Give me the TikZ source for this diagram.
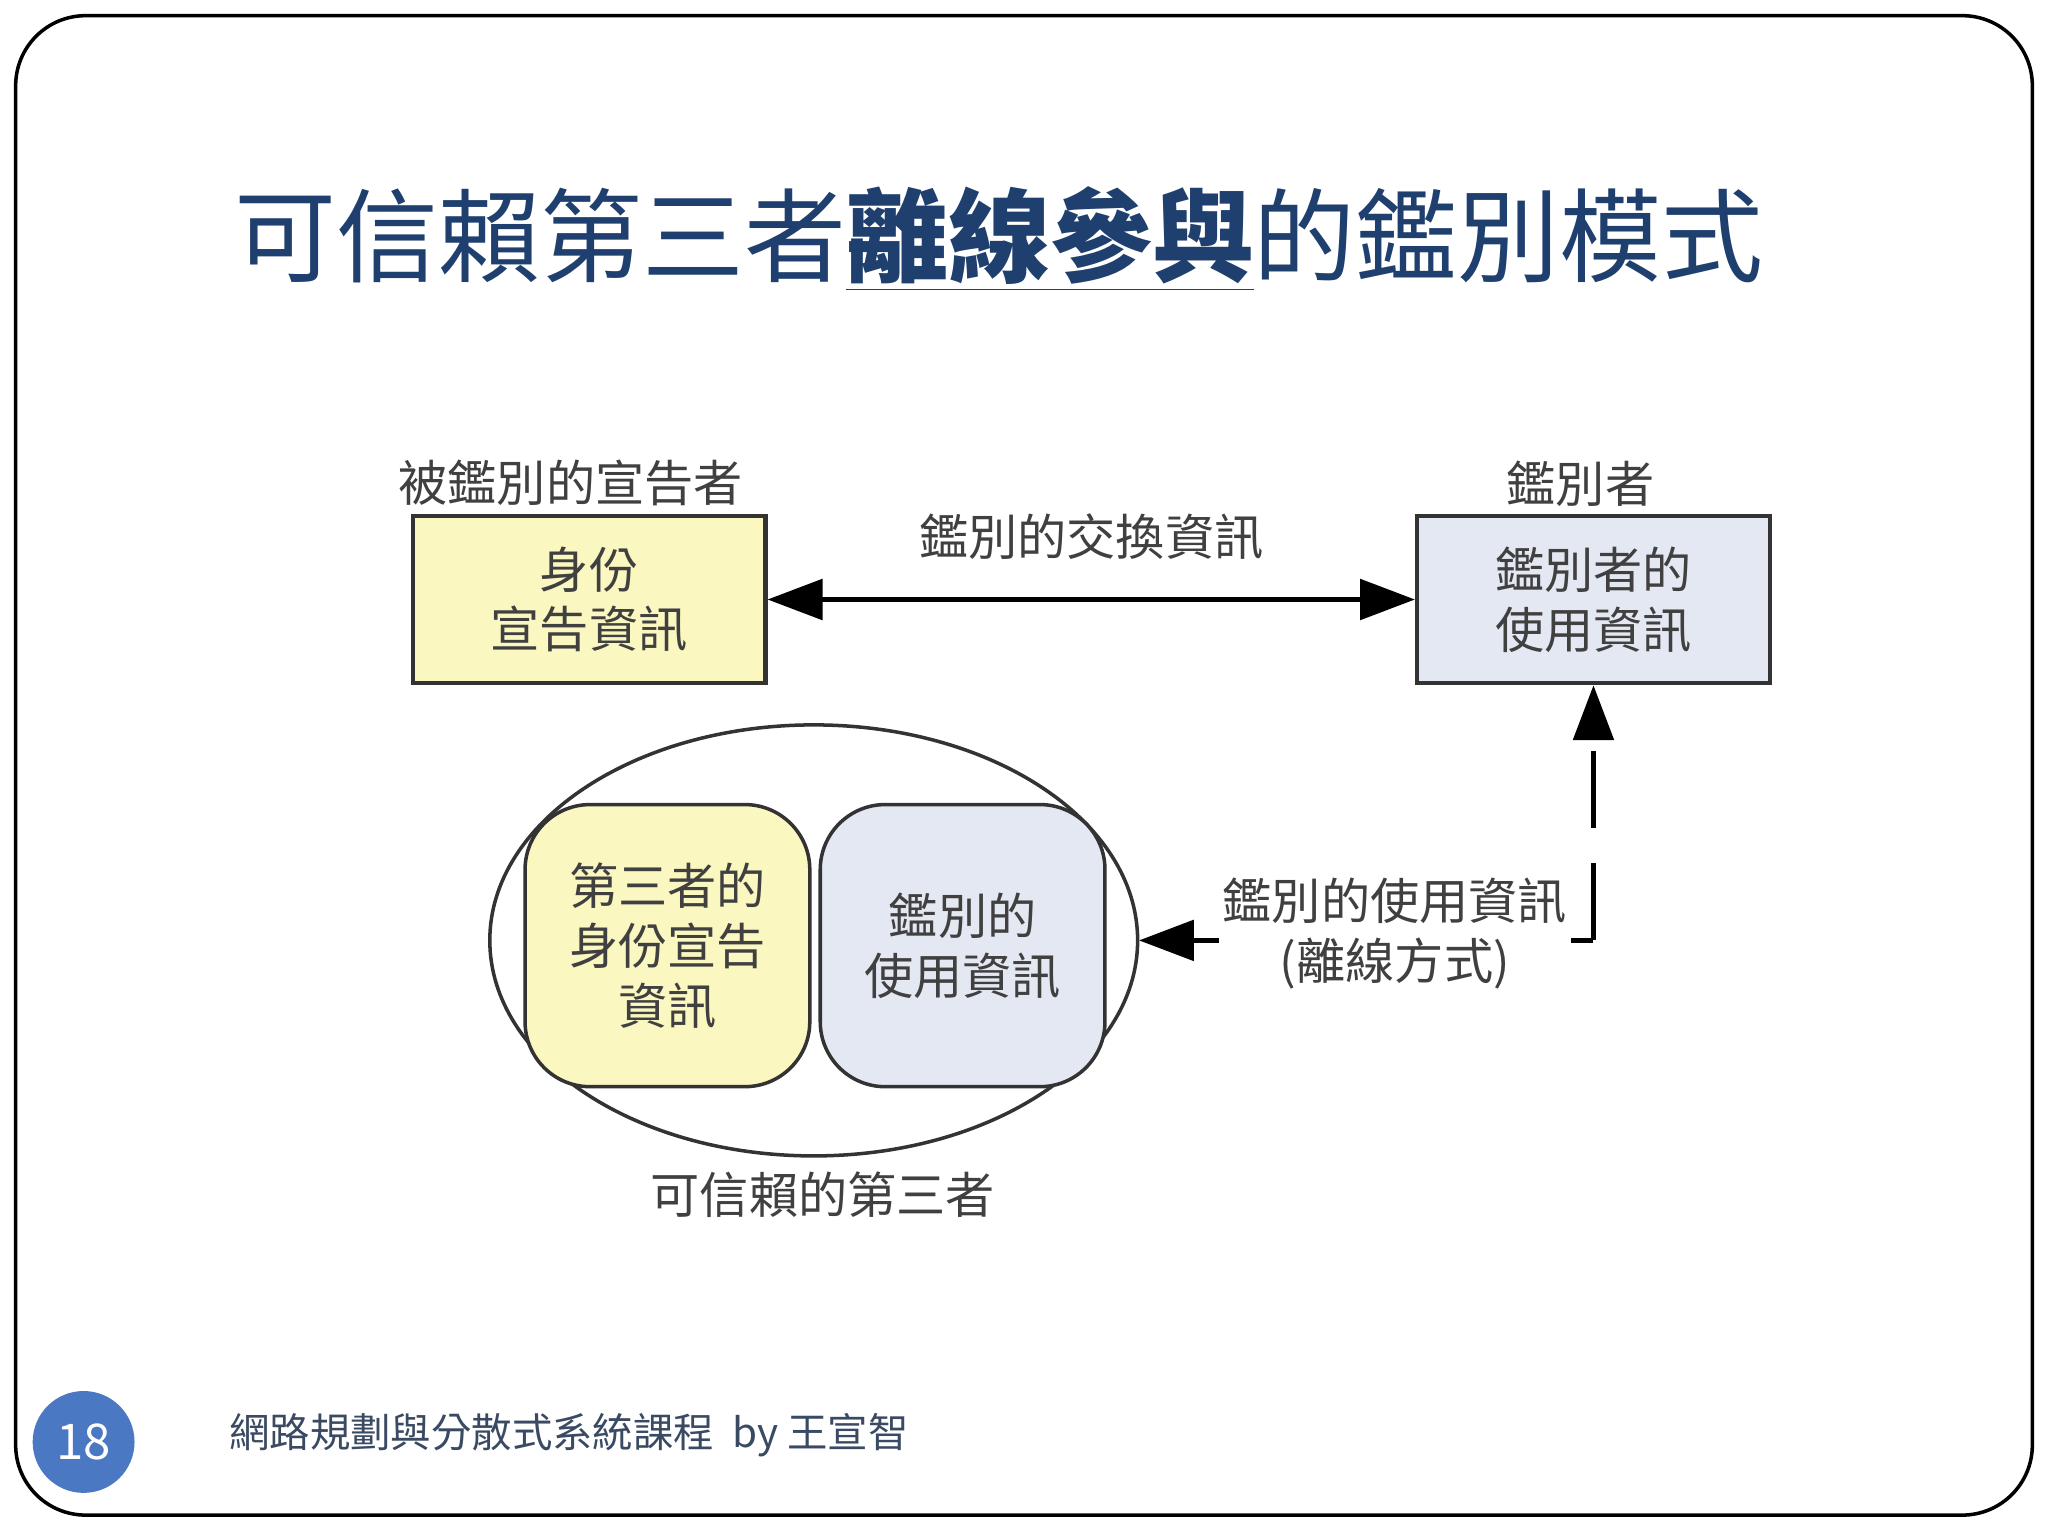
\documentclass[tikz,border=0pt]{standalone}
\usepackage{fontspec}
\setmainfont{Noto Sans CJK TC}
\usetikzlibrary{arrows.meta}
\definecolor{titleblue}{HTML}{1F3F6E}
\definecolor{boxyellow}{HTML}{FAF7C0}
\definecolor{boxblue}{HTML}{E4E8F2}
\definecolor{numblue}{HTML}{4A78C2}
\definecolor{footgray}{HTML}{3A4A63}
\tikzset{
  lbl/.style={font=\fontsize{14}{17}\selectfont, text=black!75, align=center},
  sqbox/.style={draw=black!80, line width=1.2pt, minimum width=270*0.01306cm, minimum height=128*0.01306cm, lbl},
  rbox/.style={draw=black!80, line width=1pt, rounded corners=0.65cm, minimum width=218*0.01306cm, minimum height=216*0.01306cm, lbl},
  arr/.style={line width=1.6pt, -{Triangle[length=0.55cm,width=0.4cm]}},
}
\begin{document}
\begin{tikzpicture}[x=0.01306cm,y=-0.01306cm]
\useasboundingbox (0,0) rectangle (1568,1176);
\draw[line width=1pt, rounded corners=0.7cm] (12,12) rectangle (1556,1160);
\node (title) at (765,183) {\fontsize{29}{34}\selectfont\color{titleblue}可信賴第三者\textbf{\underline{離線參與}}的鑑別模式};
\node[sqbox, fill=boxyellow] (L) at (451,459) {身份\\宣告資訊};
\node[sqbox, fill=boxblue] (R) at (1220,459) {鑑別者的\\使用資訊};
\node[lbl] (Llab) at (437,370) {被鑑別的宣告者};
\node[lbl] (Rlab) at (1210,370) {鑑別者};
\draw[arr, {Triangle[length=0.55cm,width=0.4cm]}-{Triangle[length=0.55cm,width=0.4cm]}] (L.east) -- node[lbl, above=0.25cm] {鑑別的交換資訊} (R.west);
\draw[line width=1pt, black!80] (623,720) ellipse (248 and 165);
\coordinate (Eedge) at (872,720);
\node[rbox, fill=boxyellow] (Y) at (511,724) {第三者的\\身份宣告\\資訊};
\node[rbox, fill=boxblue] (B) at (737,724) {鑑別的\\使用資訊};
\node[lbl] (Elab) at (630,915) {可信賴的第三者};
\coordinate (corner) at (1220,720);
\draw[arr, dashed, dash pattern=on 22pt off 10pt] (corner) -- (R.south);
\draw[arr, dashed, dash pattern=on 22pt off 10pt] (corner) -- (Eedge);
\node[lbl, fill=white, inner sep=1pt] (dlab) at (1068,715) {鑑別的使用資訊\\(離線方式)};
\node[circle, fill=numblue, minimum size=78*0.01306cm, text=white, font=\fontsize{14}{16}\selectfont] (num) at (64,1104) {18};
\node[text=footgray, font=\fontsize{11.5}{14}\selectfont, anchor=west] (foot) at (166,1099) {網路規劃與分散式系統課程\ \ by 王宣智};
\end{tikzpicture}
\end{document}
